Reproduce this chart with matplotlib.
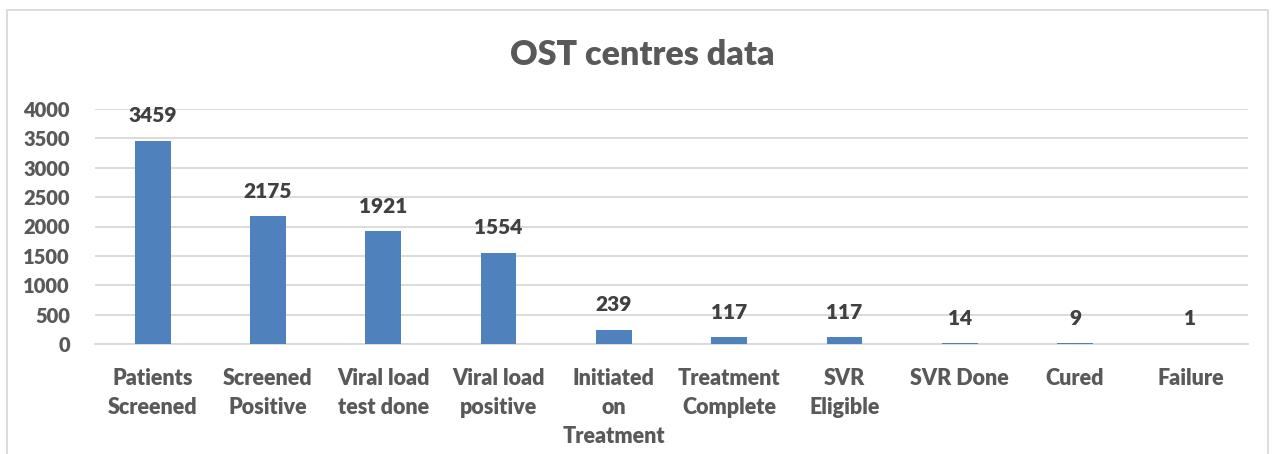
import matplotlib.pyplot as plt
from matplotlib.patches import Rectangle

categories = ['Patients\nScreened', 'Screened\nPositive', 'Viral load\ntest done',
              'Viral load\npositive', 'Initiated\non\nTreatment', 'Treatment\nComplete',
              'SVR\nEligible', 'SVR Done', 'Cured', 'Failure']
values = [3459, 2175, 1921, 1554, 239, 117, 117, 14, 9, 1]
y_ticks = [0, 500, 1000, 1500, 2000, 2500, 3000, 3500, 4000]

plt.rcParams['font.family'] = ['Lato', 'DejaVu Sans']
plt.rcParams['font.weight'] = 'bold'

fig = plt.figure(figsize=(12.77, 4.54), dpi=100)
ax = fig.add_axes([95 / 1277, 1 - 344 / 454, 1153 / 1277, 235 / 454])

# chart frame
fig.patches.append(Rectangle((7 / 1277, -0.1), 1261 / 1277, 1 - 10 / 454 + 0.1,
                             transform=fig.transFigure, fill=False,
                             edgecolor='#D9D9D9', linewidth=1.3))

x = range(len(categories))
bars = ax.bar(x, values, width=0.31, color='#4F81BD', zorder=3)

for b, v in zip(bars, values):
    ax.annotate(str(v), (b.get_x() + b.get_width() / 2, v), xytext=(0, 18),
                textcoords='offset points', ha='center', va='center',
                fontsize=15, fontweight='heavy', color='#404040')

ax.set_xlim(-0.5, len(categories) - 0.5)
ax.set_ylim(0, 4000)
ax.set_yticks(y_ticks)
ax.set_xticks(list(x))
ax.set_xticklabels(categories, fontsize=15.5, fontweight='heavy', color='#595959',
                   linespacing=1.47, va='top')
ax.tick_params(axis='y', labelsize=14.5, labelcolor='#595959', length=0, pad=18)
ax.tick_params(axis='x', length=0, pad=17)
for lbl in ax.get_yticklabels():
    lbl.set_fontweight('heavy')

ax.yaxis.grid(True, color='#D9D9D9', linewidth=1.3, zorder=0)
for s in ['top', 'right', 'left']:
    ax.spines[s].set_visible(False)
ax.spines['bottom'].set_color('#D9D9D9')
ax.spines['bottom'].set_linewidth(1.3)

fig.text(642 / 1277, 1 - 55 / 454, 'OST centres data', ha='center', va='center',
         fontsize=24.5, fontweight='heavy', color='#595959')

fig.savefig('out.png', dpi=100)
